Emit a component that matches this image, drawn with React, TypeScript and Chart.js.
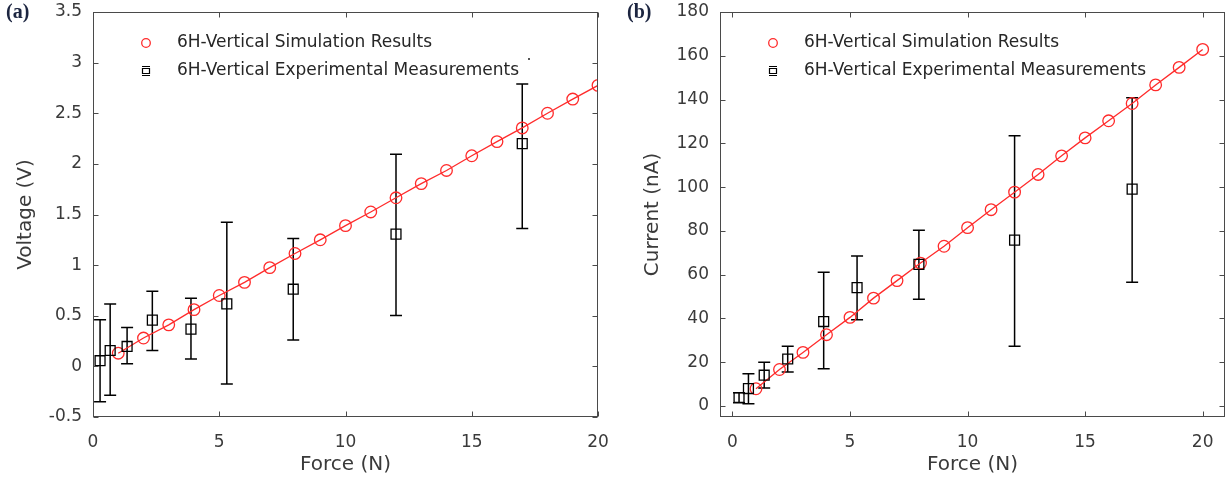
import React, { useEffect, useRef } from "react";
import { Chart, registerables } from "chart.js";
Chart.register(...registerables);

// ---- data ----
const simForce = [1, 2, 3, 4, 5, 6, 7, 8, 9, 10, 11, 12, 13, 14, 15, 16, 17, 18, 19, 20];
const voltageSim = [0.13, 0.28, 0.41, 0.56, 0.70, 0.83, 0.975, 1.115, 1.25, 1.39, 1.525, 1.665, 1.805, 1.935, 2.08, 2.22, 2.355, 2.50, 2.64, 2.775];
const currentSim = [7.9, 16.7, 24.5, 32.6, 40.5, 49.3, 57.3, 65.3, 73.0, 81.5, 89.7, 97.7, 105.8, 114.3, 122.5, 130.3, 138.2, 146.7, 154.7, 162.9];

const expForce = [0.28, 0.68, 1.35, 2.35, 3.88, 5.3, 7.93, 12, 17];
const voltageExp = [0.056, 0.157, 0.197, 0.457, 0.368, 0.617, 0.762, 1.306, 2.2];
const voltageExpLow = [-0.35, -0.285, 0.027, 0.157, 0.073, -0.173, 0.26, 0.502, 1.362];
const voltageExpHigh = [0.46, 0.617, 0.384, 0.742, 0.673, 1.424, 1.264, 2.094, 2.79];
const currentExp = [3.9, 8.0, 14.1, 21.5, 38.6, 54.1, 64.7, 75.8, 99.1];
const currentExpLow = [1.5, 1.1, 8.2, 15.5, 17.0, 39.4, 48.8, 27.3, 56.5];
const currentExpHigh = [6.1, 14.7, 20.0, 27.3, 61.1, 68.6, 80.3, 123.5, 140.8];

const forceTicks = [0, 5, 10, 15, 20];
const voltageTicks = [-0.5, 0, 0.5, 1, 1.5, 2, 2.5, 3, 3.5];
const currentTicks = [0, 20, 40, 60, 80, 100, 120, 140, 160, 180];

const seriesLabels = ["6H-Vertical Simulation Results", "6H-Vertical Experimental Measurements"];

const RED = "#ff2b2b";
const AXIS = "#4a4a4a";
const TEXT = "#3a3a3a";
const FONT = "'DejaVu Sans', 'Liberation Sans', Arial, sans-serif";

// ---- plugins ----
const errorBarPlugin = {
  id: "errBars",
  beforeDatasetsDraw(chart: any, _a: any, opts: any) {
    if (!opts || !opts.low) return;
    const { ctx, scales } = chart;
    const xs = scales.x, ys = scales.y;
    ctx.save();
    ctx.strokeStyle = "#000";
    ctx.lineWidth = 1.5;
    for (let i = 0; i < opts.xs.length; i++) {
      const px = xs.getPixelForValue(opts.xs[i]);
      const pl = ys.getPixelForValue(opts.low[i]);
      const ph = ys.getPixelForValue(opts.high[i]);
      ctx.beginPath();
      ctx.moveTo(px, pl);
      ctx.lineTo(px, ph);
      ctx.moveTo(px - 6, pl);
      ctx.lineTo(px + 6, pl);
      ctx.moveTo(px - 6, ph);
      ctx.lineTo(px + 6, ph);
      ctx.stroke();
    }
    ctx.restore();
  },
};

const framePlugin = {
  id: "frame",
  afterDraw(chart: any, _a: any, opts: any) {
    const { ctx, chartArea: ca, scales } = chart;
    ctx.save();
    ctx.strokeStyle = AXIS;
    ctx.lineWidth = 1;
    const L = Math.round(ca.left) + 0.5, R = Math.round(ca.right) - 0.5;
    const T = Math.round(ca.top) + 0.5, B = Math.round(ca.bottom) - 0.5;
    ctx.strokeRect(L, T, R - L, B - T);
    const tl = 5;
    ctx.beginPath();
    for (const t of scales.x.ticks) {
      const px = Math.round(scales.x.getPixelForValue(t.value)) + 0.5;
      ctx.moveTo(px, B); ctx.lineTo(px, B - tl);
      ctx.moveTo(px, T); ctx.lineTo(px, T + tl);
    }
    for (const t of scales.y.ticks) {
      const py = Math.round(scales.y.getPixelForValue(t.value)) + 0.5;
      ctx.moveTo(L, py); ctx.lineTo(L + tl, py);
      ctx.moveTo(R, py); ctx.lineTo(R - tl, py);
    }
    ctx.stroke();

    // panel label
    if (opts && opts.label) {
      ctx.fillStyle = "#1c2540";
      ctx.font = "bold 20px 'Liberation Serif', 'DejaVu Serif', serif";
      ctx.textBaseline = "middle";
      ctx.textAlign = "left";
      ctx.fillText(opts.label, opts.lx, opts.ly);
    }
    if (opts && opts.dot) {
      ctx.fillStyle = "#555";
      ctx.fillRect(ca.left + 435, ca.top + 46, 2, 2);
    }

    // legend
    const labels = chart.data.datasets.map((d: any) => d.label);
    const mx = ca.left + 53, tx = ca.left + 84;
    const y1 = ca.top + 31, y2 = ca.top + 59;
    ctx.lineWidth = 1.3;
    ctx.strokeStyle = RED;
    ctx.beginPath();
    ctx.arc(mx, y1, 4.3, 0, Math.PI * 2);
    ctx.stroke();
    ctx.strokeStyle = "#000";
    ctx.lineWidth = 1.2;
    ctx.beginPath();
    ctx.moveTo(mx - 4, y2 - 4.5); ctx.lineTo(mx + 4, y2 - 4.5);
    ctx.moveTo(mx - 4, y2 + 4.5); ctx.lineTo(mx + 4, y2 + 4.5);
    ctx.rect(mx - 3.5, y2 - 2.5, 7, 5);
    ctx.stroke();
    ctx.fillStyle = "#262626";
    ctx.font = "17px " + FONT;
    ctx.textAlign = "left";
    ctx.textBaseline = "middle";
    ctx.fillText(labels[0], tx, y1);
    ctx.fillText(labels[1], tx, y2);
    ctx.restore();
  },
};

type PanelProps = {
  left: number;
  width: number;
  yWidth: number;
  rightPad: number;
  yTitle: string;
  yTitlePad: number;
  yTicks: number[];
  yMin: number;
  yMax: number;
  xMin: number;
  xMax: number;
  sim: number[];
  exp: number[];
  low: number[];
  high: number[];
  label: string;
  labelX: number;
  dot: boolean;
};

function Panel(p: PanelProps) {
  const ref = useRef<HTMLCanvasElement | null>(null);
  useEffect(() => {
    if (!ref.current) return;
    const chart = new Chart(ref.current, {
      type: "scatter",
      data: {
        datasets: [
          {
            label: seriesLabels[0],
            data: simForce.map((x, i) => ({ x, y: p.sim[i] })),
            showLine: true,
            borderColor: RED,
            borderWidth: 1.3,
            pointStyle: "circle",
            pointRadius: 5.8,
            pointBorderColor: RED,
            pointBackgroundColor: "rgba(0,0,0,0)",
            pointBorderWidth: 1.3,
            order: 1,
          },
          {
            label: seriesLabels[1],
            data: expForce.map((x, i) => ({ x, y: p.exp[i] })),
            showLine: false,
            pointStyle: "rect",
            pointRadius: 7,
            pointBorderColor: "#000",
            pointBackgroundColor: "rgba(0,0,0,0)",
            pointBorderWidth: 1.3,
            order: 0,
          },
        ],
      },
      options: {
        responsive: false,
        animation: false,
        devicePixelRatio: 1,
        layout: { autoPadding: false, padding: { left: 0, top: 12, right: p.rightPad, bottom: 0 } },
        plugins: {
          legend: { display: false },
          tooltip: { enabled: false },
          errBars: { xs: expForce, low: p.low, high: p.high },
          frame: { label: p.label, lx: p.labelX, ly: 13, dot: p.dot },
        } as any,
        scales: {
          x: {
            type: "linear",
            min: p.xMin,
            max: p.xMax,
            grid: { display: false, drawTicks: false },
            border: { display: false },
            afterBuildTicks: (s: any) => {
              s.ticks = forceTicks.map((v) => ({ value: v }));
            },
            afterFit: (s: any) => {
              s.height = 61;
              s.paddingLeft = 0; s.paddingRight = 0; s.paddingTop = 0; s.paddingBottom = 0;
            },
            ticks: {
              padding: 15,
              color: TEXT,
              font: { family: FONT, size: 17 },
              maxRotation: 0,
              callback: (v: any) => String(v),
            },
            title: {
              display: true,
              text: "Force (N)",
              color: TEXT,
              font: { family: FONT, size: 20 },
              padding: { top: 0, bottom: 1 },
            },
          },
          y: {
            type: "linear",
            min: p.yMin,
            max: p.yMax,
            grid: { display: false, drawTicks: false },
            border: { display: false },
            afterBuildTicks: (s: any) => {
              s.ticks = p.yTicks.map((v) => ({ value: v }));
            },
            afterFit: (s: any) => {
              s.width = p.yWidth;
              s.paddingLeft = 0; s.paddingRight = 0; s.paddingTop = 0; s.paddingBottom = 0;
            },
            ticks: {
              padding: 11,
              color: TEXT,
              font: { family: FONT, size: 17 },
              callback: (v: any) => String(Math.round(Number(v) * 10) / 10),
            },
            title: {
              display: true,
              text: p.yTitle,
              color: TEXT,
              font: { family: FONT, size: 20 },
              padding: { top: p.yTitlePad, bottom: 0 },
            },
          },
        },
      },
      plugins: [errorBarPlugin, framePlugin],
    } as any);
    return () => chart.destroy();
  }, []);
  return (
    <canvas
      ref={ref}
      width={p.width}
      height={478}
      style={{ position: "absolute", left: p.left, top: 0, width: p.width, height: 478, display: "block" }}
    />
  );
}

export default function App() {
  return (
    <div style={{ position: "absolute", left: 0, top: 0, width: 1228, height: 478, background: "#fff", overflow: "hidden" }}>
      <Panel
        left={0}
        width={614}
        yWidth={93}
        rightPad={16}
        yTitle="Voltage (V)"
        yTitlePad={14}
        yTicks={voltageTicks}
        yMin={-0.5}
        yMax={3.5}
        xMin={0}
        xMax={20}
        sim={voltageSim}
        exp={voltageExp}
        low={voltageExpLow}
        high={voltageExpHigh}
        label="(a)"
        labelX={6}
        dot={true}
      />
      <Panel
        left={614}
        width={614}
        yWidth={106}
        rightPad={3}
        yTitle="Current (nA)"
        yTitlePad={27}
        yTicks={currentTicks}
        yMin={-5}
        yMax={180}
        xMin={-0.53}
        xMax={20.95}
        sim={currentSim}
        exp={currentExp}
        low={currentExpLow}
        high={currentExpHigh}
        label="(b)"
        labelX={13}
        dot={false}
      />
    </div>
  );
}
